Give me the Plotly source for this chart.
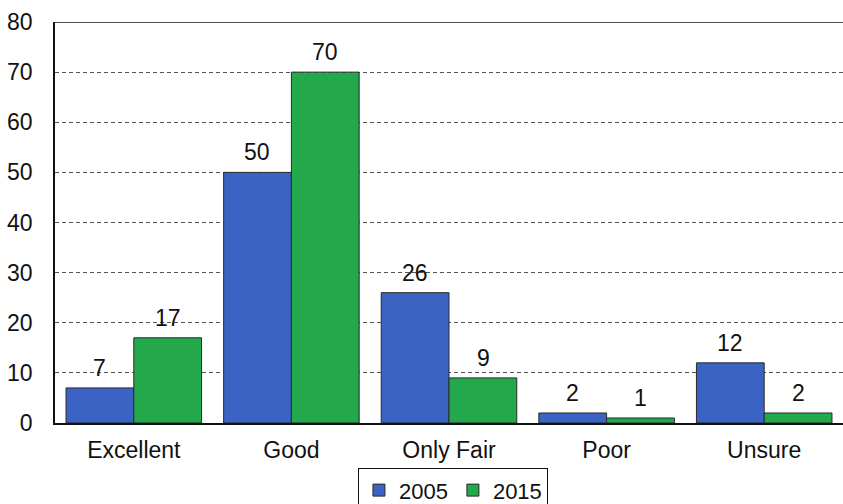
import plotly.graph_objects as go

categories = ["Excellent", "Good", "Only Fair", "Poor", "Unsure"]
values_2005 = [7, 50, 26, 2, 12]
values_2015 = [17, 70, 9, 1, 2]
y_ticks = [0, 10, 20, 30, 40, 50, 60, 70, 80]

blue = "#3B63C4"
green = "#24A84C"
font_family = "Liberation Sans, Arial, sans-serif"
FS = 23

fig = go.Figure()
series = [("2005", values_2005, blue, -34), ("2015", values_2015, green, 34)]
for name, vals, color, _ in series:
    fig.add_trace(go.Bar(
        x=categories, y=vals, name=name,
        marker=dict(color=color, line=dict(color="#2a2a2a", width=1)),
    ))

# Value labels above each bar
for name, vals, color, shift in series:
    for cat, v in zip(categories, vals):
        fig.add_annotation(
            x=cat, y=v, text=str(v), showarrow=False,
            xshift=shift, yshift=5, yanchor="bottom",
            font=dict(size=FS, color="#111111", family=font_family),
        )

fig.update_layout(
    width=843, height=504,
    margin=dict(l=55, r=0, t=22, b=81, autoexpand=False),
    paper_bgcolor="white", plot_bgcolor="white",
    barmode="group", bargap=0.14, bargroupgap=0,
    font=dict(family=font_family, size=FS, color="#111111"),
    showlegend=True,
    legend=dict(
        orientation="h", x=0.505, xanchor="center", y=-0.113, yanchor="top",
        bordercolor="#111111", borderwidth=1, font=dict(size=22),
        tracegroupgap=0,
    ),
    xaxis=dict(
        showline=True, linecolor="#111111", linewidth=1.5, mirror=False,
        ticks="", tickfont=dict(size=FS), ticklabelstandoff=6,
    ),
    yaxis=dict(
        range=[0, 80], tickvals=y_ticks,
        showline=True, linecolor="#111111", linewidth=1.5,
        showgrid=True, gridcolor="#555555", griddash="4px,3px", gridwidth=1,
        zeroline=False, ticks="", tickfont=dict(size=FS), ticklabelstandoff=16,
    ),
)
# Solid top frame line at 80
fig.add_shape(type="line", xref="paper", yref="y", x0=0, x1=1, y0=80, y1=80,
              line=dict(color="#111111", width=1.5))

fig.write_html("out.html")
